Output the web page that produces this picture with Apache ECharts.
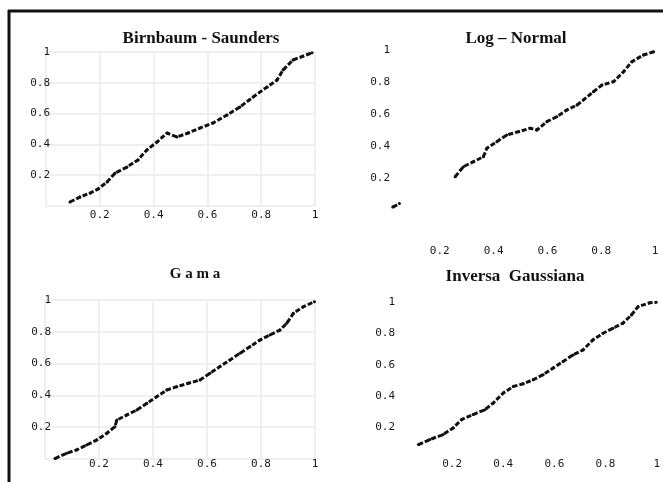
<!DOCTYPE html>
<html>
<head>
<meta charset="utf-8">
<script src="https://cdn.jsdelivr.net/npm/echarts@6/dist/echarts.min.js"></script>
<style>
  html, body { margin: 0; padding: 0; background: #fff; }
  #chart { width: 663px; height: 482px; }
</style>
</head>
<body>
<div id="chart"></div>
<script>
// P-P plots, four fitted distributions
var titles = ['Birnbaum - Saunders', 'Log \u2013 Normal', 'G a m a', 'Inversa  Gaussiana'];

var bsX = [0.089, 0.126, 0.164, 0.193, 0.227, 0.257, 0.301, 0.342, 0.375, 0.413, 0.450, 0.487, 0.528, 0.572, 0.621, 0.673, 0.721, 0.770, 0.822, 0.859, 0.881, 0.918, 0.989];
var bsY = [0.026, 0.058, 0.084, 0.110, 0.156, 0.214, 0.253, 0.299, 0.364, 0.416, 0.474, 0.448, 0.474, 0.506, 0.539, 0.591, 0.643, 0.708, 0.773, 0.818, 0.883, 0.948, 0.995];

var lnX = [0.025, 0.050, null, 0.257, 0.288, 0.325, 0.362, 0.375, 0.412, 0.449, 0.492, 0.536, 0.561, 0.598, 0.635, 0.672, 0.710, 0.734, 0.771, 0.803, 0.846, 0.883, 0.914, 0.957, 0.995];
var lnY = [0.018, 0.040, null, 0.208, 0.271, 0.302, 0.333, 0.386, 0.427, 0.469, 0.489, 0.511, 0.500, 0.552, 0.583, 0.625, 0.656, 0.688, 0.739, 0.781, 0.802, 0.864, 0.927, 0.969, 0.989];

var gaX = [0.037, 0.080, 0.117, 0.154, 0.191, 0.229, 0.259, 0.266, 0.303, 0.340, 0.377, 0.414, 0.451, 0.488, 0.531, 0.574, 0.611, 0.648, 0.685, 0.722, 0.759, 0.796, 0.833, 0.870, 0.895, 0.920, 0.957, 0.998];
var gaY = [0.003, 0.036, 0.057, 0.088, 0.119, 0.162, 0.203, 0.245, 0.277, 0.308, 0.350, 0.392, 0.434, 0.455, 0.476, 0.497, 0.539, 0.581, 0.623, 0.665, 0.706, 0.748, 0.780, 0.811, 0.853, 0.916, 0.958, 0.989];

var igX = [0.068, 0.113, 0.165, 0.204, 0.237, 0.282, 0.328, 0.361, 0.400, 0.439, 0.478, 0.517, 0.556, 0.595, 0.634, 0.673, 0.712, 0.751, 0.790, 0.829, 0.868, 0.901, 0.927, 0.973, 0.998];
var igY = [0.092, 0.124, 0.156, 0.198, 0.251, 0.283, 0.314, 0.357, 0.420, 0.462, 0.479, 0.505, 0.537, 0.579, 0.621, 0.663, 0.695, 0.759, 0.801, 0.833, 0.865, 0.917, 0.970, 0.995, 0.998];

var panelsX = [bsX, lnX, gaX, igX];
var panelsY = [bsY, lnY, gaY, igY];

var grids = [
  { left: 46, top: 52, width: 269, height: 154 },
  { left: 386, top: 50, width: 269, height: 160 },
  { left: 45, top: 300, width: 270, height: 159 },
  { left: 401, top: 302, width: 256, height: 157 }
];
var titlePos = [[196, 25], [511, 25], [190, 262], [510, 263]];
var yMargin = [-4, -4, -6, 6];
var xMargin = [4, 36, 0, 0];
var showGrid = [true, false, true, false];

var myChart = echarts.init(document.getElementById('chart'));

var option = {
  animation: false,
  backgroundColor: '#fff',
  title: [],
  grid: [],
  xAxis: [],
  yAxis: [],
  series: [],
  graphic: [
    { type: 'line', shape: { x1: 8, y1: 11, x2: 663, y2: 11 }, style: { stroke: '#111', lineWidth: 3 } },
    { type: 'line', shape: { x1: 9, y1: 10, x2: 9, y2: 482 }, style: { stroke: '#111', lineWidth: 3 } }
  ]
};

for (var i = 0; i < 4; i++) {
  option.title.push({
    text: titles[i],
    left: titlePos[i][0],
    top: titlePos[i][1],
    textAlign: 'center',
    textStyle: { fontFamily: 'Liberation Serif', fontWeight: 'bold', fontSize: i == 2 ? 15 : 17, color: '#111' }
  });
  option.grid.push(grids[i]);
  var labelStyle = { fontFamily: 'DejaVu Sans Mono', fontSize: 11, color: '#1a1a1a', showMinLabel: false };
  option.xAxis.push({
    type: 'value', gridIndex: i, min: 0, max: 1, interval: 0.2,
    axisLine: { show: false }, axisTick: { show: false },
    splitLine: { show: showGrid[i], lineStyle: { color: '#efefef', width: 2 } },
    axisLabel: Object.assign({ margin: xMargin[i] }, labelStyle)
  });
  option.yAxis.push({
    type: 'value', gridIndex: i, min: 0, max: 1, interval: 0.2,
    axisLine: { show: false }, axisTick: { show: false },
    splitLine: { show: showGrid[i], lineStyle: { color: '#efefef', width: 2 } },
    axisLabel: Object.assign({ margin: yMargin[i] }, labelStyle)
  });
  var pts = [];
  for (var k = 0; k < panelsX[i].length; k++) {
    pts.push(panelsX[i][k] === null ? '-' : [panelsX[i][k], panelsY[i][k]]);
  }
  option.series.push({
    type: 'line', xAxisIndex: i, yAxisIndex: i,
    data: pts,
    connectNulls: false,
    symbol: 'circle', symbolSize: 3,
    itemStyle: { color: '#111' },
    lineStyle: { color: '#111', width: 3, type: [5, 2] }
  });
}

myChart.setOption(option);
</script>
</body>
</html>
